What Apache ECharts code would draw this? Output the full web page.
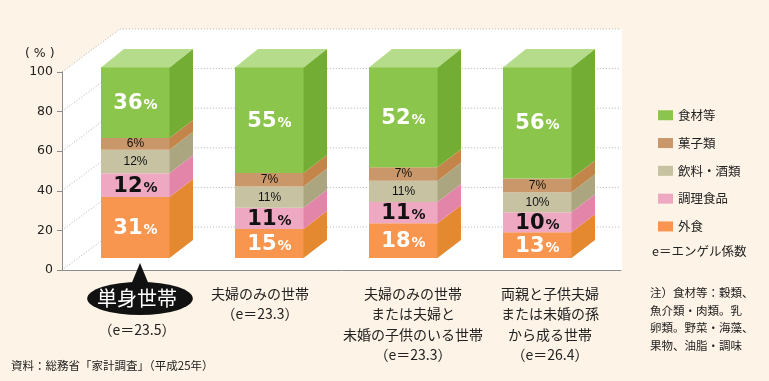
<!DOCTYPE html>
<html><head><meta charset="utf-8">
<script src="https://cdn.jsdelivr.net/npm/echarts@6/dist/echarts.min.js"></script>
<style>html,body{margin:0;padding:0;background:#fdf3e6;}#c{width:769px;height:381px;}</style>
</head><body><div id="c"></div>
<script>
// ---- data ----
const categories = ['単身世帯', '夫婦のみの世帯', '夫婦のみの世帯\nまたは夫婦と\n未婚の子供のいる世帯', '両親と子供夫婦\nまたは未婚の孫\nから成る世帯'];
const engelValues = ['23.5', '23.3', '23.3', '26.4'];
const food = [36, 55, 52, 56];        // 食材等
const sweets = [6, 7, 7, 7];          // 菓子類
const drinks = [12, 11, 11, 10];      // 飲料・酒類
const prepared = [12, 11, 11, 10];    // 調理食品
const eatingOut = [31, 15, 18, 13];   // 外食
const yTicks = [0, 20, 40, 60, 80, 100];

// ---- styles ----
const BAR_W = 69, DX = 23, DY = -18;   // 3D bar geometry
const BX = 58, BY = -43;               // back wall offset
const labelShift = [1.5, -9.5, 9.5, 12.5];
const JP = '"Noto Sans CJK JP", sans-serif';
const NUM = '"DejaVu Sans", sans-serif';

const layers = [
  {name: '外食', values: eatingOut, front: '#f8954f', side: '#e4892f', txt: '#ffffff', big: true},
  {name: '調理食品', values: prepared, front: '#eea8c1', side: '#e385a8', txt: '#111111', big: true},
  {name: '飲料・酒類', values: drinks, front: '#c6c2a2', side: '#aca680', txt: '#111111', big: false},
  {name: '菓子類', values: sweets, front: '#c99769', side: '#c3854a', txt: '#111111', big: false},
  {name: '食材等', values: food, front: '#8cc54b', side: '#74ad34', top: '#b4dc8a', txt: '#ffffff', big: true}
];
const totals = categories.map((c, i) => layers.reduce((s, l) => s + l.values[i], 0));

const barSeries = layers.map((l, li) => {
  const data = categories.map((c, i) => {
    let base = 0;
    for (let k = 0; k < li; k++) base += layers[k].values[i] / totals[i] * 100;
    return [i, base, base + l.values[i] / totals[i] * 100, l.values[i]];
  });
  return {
    type: 'custom', name: l.name, xAxisIndex: 1, yAxisIndex: 1, z: 3,
    itemStyle: {color: l.front},
    data: data,
    renderItem: function (params, api) {
      const ci = api.value(0), b = api.value(1), t = api.value(2), v = api.value(3);
      const pb = api.coord([ci, b]), pt = api.coord([ci, t]);
      const x0 = pb[0] - BAR_W / 2, x1 = pb[0] + BAR_W / 2;
      const ch = [
        {type: 'rect', shape: {x: x0, y: pt[1], width: BAR_W, height: pb[1] - pt[1]}, style: {fill: l.front}},
        {type: 'polygon', shape: {points: [[x1 - 0.5, pb[1]], [x1 - 0.5, pt[1]], [x1 + DX, pt[1] + DY], [x1 + DX, pb[1] + DY]]}, style: {fill: l.side}}
      ];
      if (l.top) ch.push({type: 'polygon', shape: {points: [[x0, pt[1] + 0.5], [x1, pt[1] + 0.5], [x1 + DX, pt[1] + DY], [x0 + DX, pt[1] + DY]]}, style: {fill: l.top}});
      if (l.big) {
        ch.push({type: 'text', x: pb[0], y: (pb[1] + pt[1]) / 2 + 1, style: {
          text: '{n|' + v + '}{p|%}', align: 'center', verticalAlign: 'middle',
          rich: {
            n: {fill: l.txt, fontSize: 21, fontWeight: 'bold', fontFamily: NUM},
            p: {fill: l.txt, fontSize: 14, fontWeight: 'bold', fontFamily: NUM, padding: [4, 0, 0, 1]}
          }
        }});
      } else {
        ch.push({type: 'text', x: pb[0], y: (pb[1] + pt[1]) / 2, style: {
          text: v + '%', align: 'center', verticalAlign: 'middle',
          fill: l.txt, fontSize: 12, fontFamily: '"Liberation Sans", sans-serif'
        }});
      }
      return {type: 'group', children: ch};
    }
  };
});

const panelSeries = {
  type: 'custom', xAxisIndex: 0, yAxisIndex: 0, z: -2, silent: true,
  data: [[0, 0]],
  renderItem: function (params, api) {
    const a = api.coord([0, 0]), b = api.coord([0, 100]), c = api.coord([1, 100]), d = api.coord([1, 0]);
    return {type: 'polygon', shape: {points: [a, b, [b[0] + BX, b[1] + BY], [c[0] + 1, c[1] + BY], [d[0] + 1, d[1]]]}, style: {fill: '#ffffff'}};
  }
};
const gridSeries = {
  type: 'custom', xAxisIndex: 0, yAxisIndex: 0, z: -1, silent: true,
  data: yTicks.map(v => [0, v]),
  renderItem: function (params, api) {
    const v = api.value(1);
    const p = api.coord([0, v]), r = api.coord([1, v]);
    return {type: 'polyline', shape: {points: [p, [p[0] + BX, p[1] + BY], [r[0], p[1] + BY]]},
      style: {stroke: '#b0b0b0', lineWidth: 1, lineDash: [1, 2], fill: null}};
  }
};

const chart = echarts.init(document.getElementById('c'), null, {renderer: 'canvas'});
chart.setOption({
  animation: false,
  backgroundColor: '#fdf3e6',
  grid: [
    {left: 62, right: 148, top: 72, bottom: 111},
    {left: 68.5, right: 164.5, top: 67, bottom: 123}
  ],
  xAxis: [
    {gridIndex: 0, type: 'value', min: 0, max: 1, axisLine: {show: true, lineStyle: {color: '#8c8c8c'}}, axisTick: {show: false}, axisLabel: {show: false}, splitLine: {show: false}},
    {gridIndex: 1, type: 'category', z: 10,
     data: categories.map((c, i) => ({value: c, textStyle: {padding: labelShift[i] >= 0 ? [0, 0, 0, 2 * labelShift[i]] : [0, -2 * labelShift[i], 0, 0]}})),
     axisLine: {show: false}, axisTick: {show: false},
     axisLabel: {
       interval: 0, margin: 25, color: '#222', fontSize: 14, lineHeight: 20.5, fontFamily: JP,
       formatter: function (val, idx) {
         if (idx === 0) return '{b|' + val + '}\n{e|（e＝' + engelValues[idx] + '）}';
         return val + '\n（e＝' + engelValues[idx] + '）';
       },
       rich: {
         b: {color: '#ffffff', fontSize: 20, lineHeight: 31, fontFamily: JP},
         e: {color: '#222', fontSize: 14, lineHeight: 31, fontFamily: JP}
       }
     }}
  ],
  yAxis: [
    {gridIndex: 0, type: 'value', min: 0, max: 100, interval: 20,
     axisLine: {show: true, lineStyle: {color: '#8c8c8c'}},
     axisTick: {show: true, length: 5, lineStyle: {color: '#8c8c8c'}},
     axisLabel: {color: '#222', fontSize: 12.5, fontFamily: NUM, margin: 9},
     splitLine: {show: false}},
    {gridIndex: 1, type: 'value', min: 0, max: 100, show: false}
  ],
  legend: {
    orient: 'vertical', left: 653, top: 104, itemWidth: 15, itemHeight: 10, itemGap: 15.3, itemTextGap: 7,
    icon: 'rect', selectedMode: false,
    data: ['食材等', '菓子類', '飲料・酒類', '調理食品', '外食'],
    textStyle: {color: '#222', fontSize: 12.5, lineHeight: 12, fontFamily: JP}
  },
  graphic: [
    {type: 'polygon', z: 1, shape: {points: [[140, 263], [130.5, 286], [149.5, 286]]}, style: {fill: '#111'}},
    {type: 'circle', z: 1, x: 140, y: 298.5, scaleX: 3.2, shape: {cx: 0, cy: 0, r: 16.5}, style: {fill: '#111'}},
    {type: 'text', left: 25, top: 47, style: {text: '( % )', fill: '#222', fontSize: 12.5, fontFamily: NUM}},
    {type: 'text', left: 652, top: 245, style: {text: 'e＝エンゲル係数', fill: '#222', fontSize: 12.5, fontFamily: JP}},
    {type: 'text', left: 650, top: 284, style: {text: '注）食材等：穀類、\n魚介類・肉類。乳\n卵類。野菜・海藻、\n果物、油脂・調味', fill: '#222', fontSize: 11.5, lineHeight: 17.6, fontFamily: JP}},
    {type: 'text', left: 11, top: 360, style: {text: '資料：総務省「家計調査」（平成25年）', fill: '#222', fontSize: 11.5, fontFamily: JP}}
  ],
  series: [panelSeries, gridSeries].concat(barSeries)
});
</script>
</body></html>
